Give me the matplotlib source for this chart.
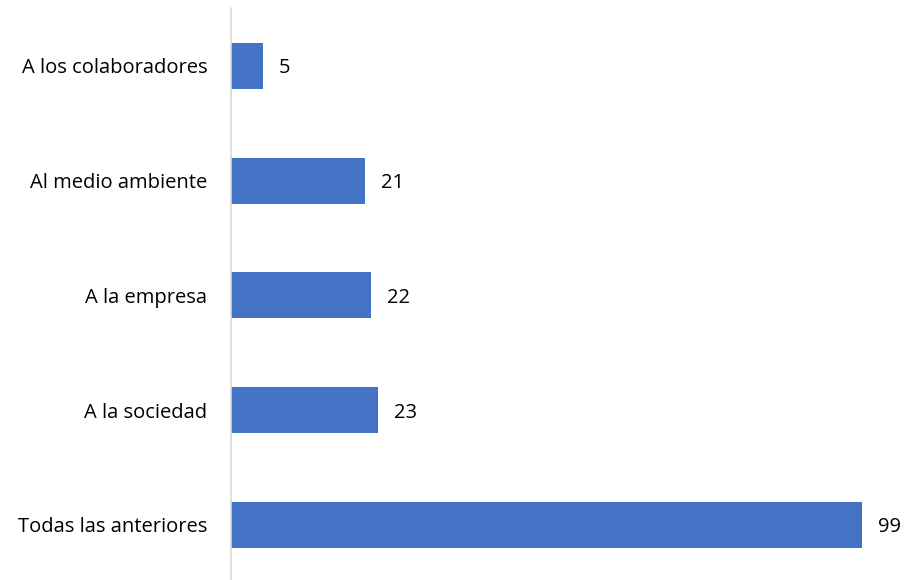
import matplotlib.pyplot as plt

categorias = ["A los colaboradores", "Al medio ambiente", "A la empresa",
              "A la sociedad", "Todas las anteriores"]
valores = [5, 21, 22, 23, 99]

plt.rcParams['font.family'] = ['Open Sans', 'DejaVu Sans']

fig = plt.figure(figsize=(9.06, 5.8), dpi=100)
ax = fig.add_axes([231 / 906, -2.4 / 580, 631 / 906, 574 / 580])

pos = list(range(len(categorias)))
ax.barh(pos, valores, height=0.4, color="#4472C4")
ax.set_ylim(len(categorias) - 0.5, -0.5)
ax.set_xlim(0, 99)

ax.set_yticks(pos)
ax.set_yticklabels(categorias, fontsize=14.5, color="#000000")
ax.tick_params(axis="y", length=0, pad=17)
ax.set_xticks([])

for s in ["top", "right", "bottom"]:
    ax.spines[s].set_visible(False)
ax.spines["left"].set_color("#D9D9D9")
ax.spines["left"].set_linewidth(1.2)

for p, v in zip(pos, valores):
    ax.annotate(str(v), (v, p), xytext=(11.5, 0), textcoords="offset points",
                va="center_baseline", ha="left", fontsize=14.5,
                annotation_clip=False)

fig.savefig("out.png", dpi=100)
